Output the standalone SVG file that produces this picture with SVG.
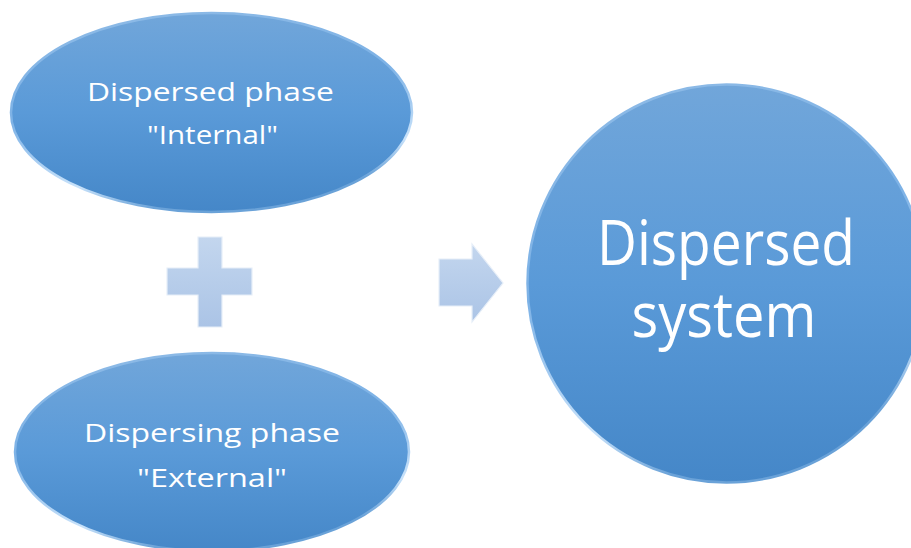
<svg xmlns="http://www.w3.org/2000/svg" width="911" height="548" viewBox="0 0 911 548">
<style>
.node{stroke:url(#rim);stroke-width:2.5}
.lbl{fill:#ffffff;font-family:"Open Sans","Lato","DejaVu Sans",sans-serif;text-anchor:middle}
.small{font-size:26px}
.big{font-size:62px}
.sym{fill:url(#symfill);stroke:#e6eef8;stroke-width:1.2}
</style>
<defs>
<linearGradient id="fill" x1="0" y1="0" x2="0" y2="1">
<stop offset="0" stop-color="#71a6da"/>
<stop offset="0.5" stop-color="#5a9ad8"/>
<stop offset="1" stop-color="#4587c8"/>
</linearGradient>
<linearGradient id="rim" x1="0" y1="0" x2="0.3" y2="1">
<stop offset="0" stop-color="#8fbbe6"/>
<stop offset="0.5" stop-color="#7db2e6"/>
<stop offset="0.85" stop-color="#c8e2fa"/>
<stop offset="1" stop-color="#6aa2d8"/>
</linearGradient>
<linearGradient id="symfill" x1="0" y1="0" x2="0" y2="1">
<stop offset="0" stop-color="#c3d6ee"/>
<stop offset="1" stop-color="#abc4e6"/>
</linearGradient>
</defs>
<g id="internal">
<ellipse class="node" cx="211.5" cy="112.5" rx="200.5" ry="99.5" fill="url(#fill)"/>
<text class="lbl small" x="210.5" y="101" textLength="247" lengthAdjust="spacingAndGlyphs">Dispersed phase</text>
<text class="lbl small" x="212.5" y="144" textLength="131" lengthAdjust="spacingAndGlyphs">"Internal"</text>
</g>
<g id="external">
<ellipse class="node" cx="212" cy="452" rx="197" ry="99" fill="url(#fill)"/>
<text class="lbl small" x="212" y="442" textLength="256" lengthAdjust="spacingAndGlyphs">Dispersing phase</text>
<text class="lbl small" x="212" y="487" textLength="150" lengthAdjust="spacingAndGlyphs">"External"</text>
</g>
<g id="plus">
<path class="sym" d="M198 237 H222 V268 H252 V295 H222 V327 H198 V295 H167 V268 H198 Z"/>
</g>
<g id="connectors">
<path class="sym" d="M439 259 H472 V244 L503 283 L472 322 V306 H439 Z"/>
</g>
<g id="system">
<circle class="node" cx="726.5" cy="283.5" r="199" fill="url(#fill)"/>
<text class="lbl big" x="726" y="265" textLength="258" lengthAdjust="spacingAndGlyphs">Dispersed</text>
<text class="lbl big" x="724" y="337" textLength="185" lengthAdjust="spacingAndGlyphs">system</text>
</g>
</svg>
